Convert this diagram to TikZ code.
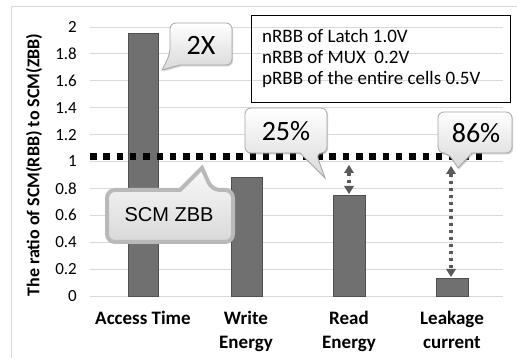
\documentclass[tikz,border=0pt]{standalone}
\usepackage{fontspec}
\setmainfont{Carlito}
\newfontfamily\arialf{Liberation Sans}
\usetikzlibrary{arrows.meta,shadows}
\definecolor{barfill}{HTML}{707070}
\definecolor{barline}{HTML}{505050}
\definecolor{gridc}{HTML}{D9D9D9}
\definecolor{arrowc}{HTML}{5A5A5A}
\tikzset{
  bar/.style={fill=barfill,draw=barline,line width=0.8pt},
  gridline/.style={draw=gridc,line width=0.8pt},
  ticklabel/.style={anchor=east,font=\fontsize{17}{17}\selectfont,inner sep=0pt},
  catlabel/.style={align=center,font=\bfseries\fontsize{19}{24}\selectfont,inner sep=0pt,anchor=north},
  bubble/.style={draw=gray!70,line width=0.8pt,top color=white,bottom color=gray!30,
    drop shadow={opacity=0.35,shadow xshift=1pt,shadow yshift=-1.5pt}},
  bubbletext/.style={font=\fontsize{28}{28}\selectfont,inner sep=0pt},
  gaparrow/.style={draw=arrowc,fill=arrowc,line width=3.5pt,dash pattern=on 3.5pt off 3.5pt,
    {Triangle[width=10pt,length=8pt,line width=0pt]}-{Triangle[width=10pt,length=8pt,line width=0pt]}},
}
\begin{document}
\begin{tikzpicture}[x=1pt,y=-1pt]
\useasboundingbox (0,0) rectangle (517,358);
\fill[white] (0,0) rectangle (517,358);
% outer chart frame
\draw[gridc,line width=1pt] (11,360) -- (11,7) -- (520,7);

% horizontal grid and tick labels (0 at 296, 0.2 per 26.9)
\foreach \v/\t [count=\i from 0] in {0/0,0.2/0.2,0.4/0.4,0.6/0.6,0.8/0.8,1/1,1.2/1.2,1.4/1.4,1.6/1.6,1.8/1.8,2/2}{
  \path[gridline] (90,{296-\i*26.9}) -- (503,{296-\i*26.9});
  \node[ticklabel] (tick\i) at (77,{296-\i*26.9}) {\t};
}

% axis title
\node[rotate=90,font=\bfseries\fontsize{18}{18}\selectfont,inner sep=0pt] (ytitle) at (34,165)
  {The ratio of SCM(RBB) to SCM(ZBB)};

% bars
\draw[bar] (128,296) rectangle (158,33);
\draw[bar] (231,296) rectangle (262,177.5);
\draw[bar] (333,296) rectangle (365,195);
\draw[bar] (436,296) rectangle (468,278);

% bar top anchors
\coordinate (readtop) at (349,194);
\coordinate (leaktop) at (451,277);
\coordinate (readref) at (349,165);
\coordinate (leakref) at (451,166);

% category labels
\node[catlabel] (c1) at (143,311) {Access Time};
\node[catlabel] (c2) at (246,311) {Write\\Energy};
\node[catlabel] (c3) at (349,311) {Read\\Energy};
\node[catlabel] (c4) at (452,311) {Leakage\\current};

% ZBB reference line
\coordinate (zl) at (90,157);
\coordinate (zr) at (486,157);
\draw[black,line width=7pt,dash pattern=on 6.5pt off 6.8pt] (zl) -- (zr);

% gap arrows
\draw[gaparrow] (readref) -- (readtop);
\draw[gaparrow] (leakref) -- (leaktop);

% legend box
\node[draw=black,line width=1.2pt,minimum width=259pt,minimum height=87pt,anchor=north west,inner sep=0pt] (legend) at (251,15) {};
\node[anchor=west,font=\fontsize{19}{21}\selectfont,align=left,inner sep=0pt] (legtext) at (262,58)
  {nRBB of Latch 1.0V\\nRBB of MUX\ \ 0.2V\\pRBB of the entire cells 0.5V};

% callout 2X
\path[bubble,rounded corners=6pt] (180,65) -- (232,65) -- (232,23) -- (170,23) -- (170,54) [sharp corners] -- (162,70) -- cycle;
\node[bubbletext] (b2x) at (201,45) {2X};

% callout 25%
\path[bubble,rounded corners=6pt] (300,153) -- (245,153) -- (245,108) -- (327,108) -- (327,153) -- (316,153) [sharp corners] -- (325,178) -- cycle;
\node[bubbletext] (b25) at (286,131) {25\%};

% callout 86%
\path[bubble,rounded corners=6pt] (472,153) -- (512,153) -- (512,112) -- (438,112) -- (438,153) -- (448,153) [sharp corners] -- (458,168) -- cycle;
\node[bubbletext] (b86) at (476,133) {86\%};

% callout SCM ZBB
\path[draw=gray!55,line width=4pt,top color=gray!5,bottom color=gray!30,rounded corners=8pt,
  drop shadow={opacity=0.3,shadow xshift=1pt,shadow yshift=-1.5pt}]
  (180,190) -- (107,190) -- (107,242) -- (233,242) -- (233,190) -- (212,190) [sharp corners] -- (202,168) -- cycle;
\node[font=\arialf\fontsize{20}{20}\selectfont,inner sep=0pt] (bzbb) at (169,215) {SCM ZBB};
\end{tikzpicture}
\end{document}
